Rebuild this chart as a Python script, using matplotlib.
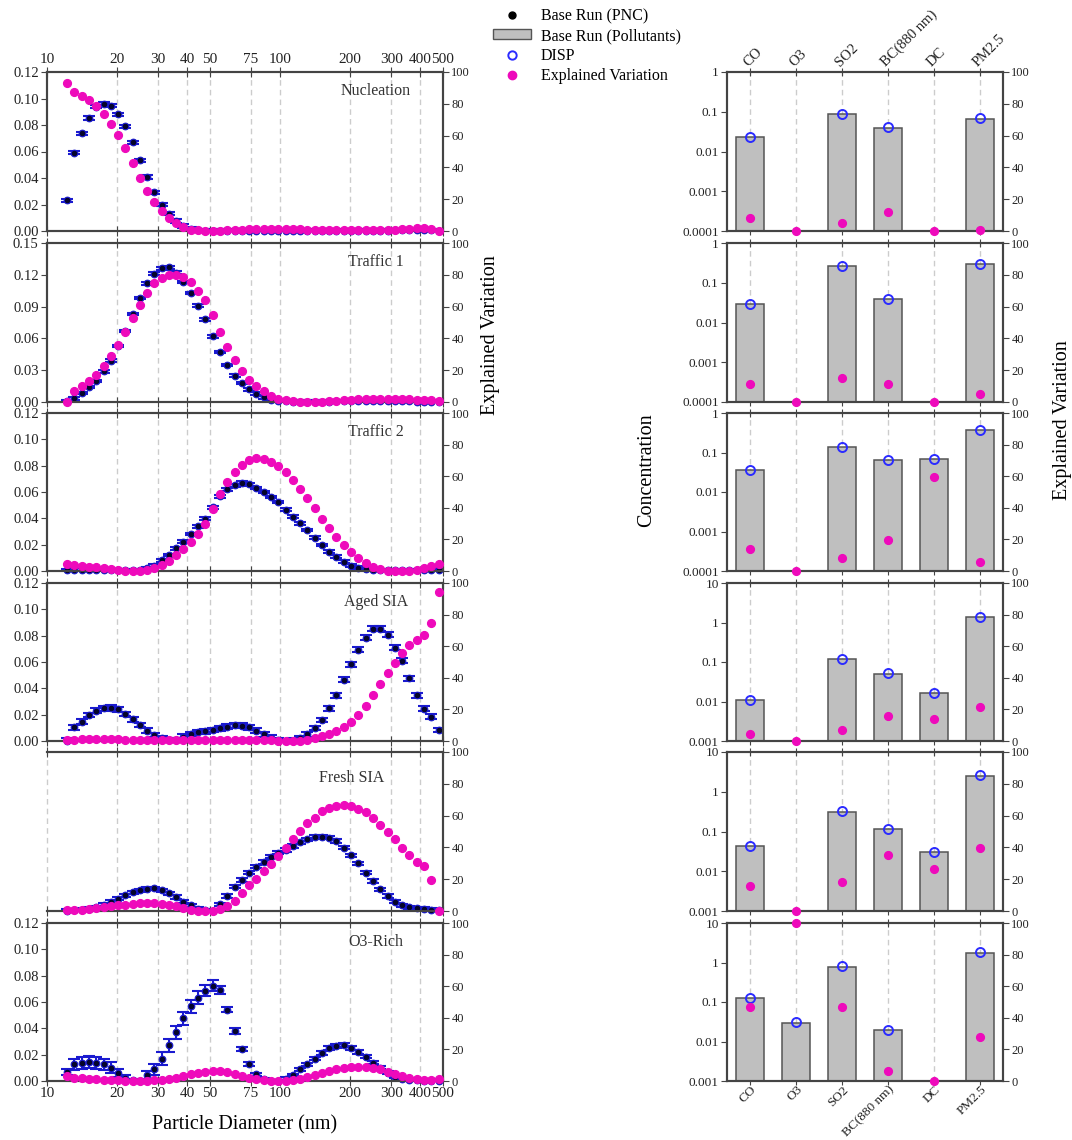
import numpy as np
import matplotlib
matplotlib.use('Agg')
import matplotlib.pyplot as plt
from matplotlib.lines import Line2D
from matplotlib.patches import Patch
from matplotlib.ticker import FixedLocator, FuncFormatter, NullLocator, LogLocator

plt.rcParams['font.family'] = ['Liberation Serif', 'DejaVu Serif']
plt.rcParams['axes.linewidth'] = 1.5
plt.rcParams['axes.edgecolor'] = '#444444'
plt.rcParams['xtick.color'] = '#444444'
plt.rcParams['ytick.color'] = '#444444'
plt.rcParams['xtick.labelcolor'] = '#222222'
plt.rcParams['ytick.labelcolor'] = '#222222'

# particle size bins (nm)
diameter = [12.2, 13.1, 14.1, 15.1, 16.3, 17.5, 18.8, 20.2, 21.7, 23.3,
            25.0, 26.9, 28.9, 31.1, 33.4, 35.9, 38.5, 41.4, 44.5, 47.8,
            51.4, 55.2, 59.4, 63.8, 68.5, 73.7, 79.1, 85.1, 91.4, 98.2,
            105.5, 113.4, 121.9, 131.0, 140.7, 151.2, 162.5, 174.6, 187.6, 201.7,
            216.7, 232.9, 250.3, 269.0, 289.0, 310.6, 333.8, 358.7, 385.4, 414.2,
            445.1, 478.3]

factors = ['Nucleation', 'Traffic 1', 'Traffic 2', 'Aged SIA', 'Fresh SIA', 'O3-Rich']

# base run profiles (PNC)
nuc_pnc = [0.0233, 0.059, 0.0737, 0.0853, 0.0937, 0.096, 0.0947, 0.088, 0.079, 0.0668,
           0.0534, 0.0408, 0.0291, 0.020, 0.0129, 0.0076, 0.0038, 0.0015, 0.0006, 0.0003,
           0.0002, 0.0002, 0.0002, 0.0003, 0.0003, 0.0003, 0.0003, 0.0003, 0.0003, 0.0003,
           0.0003, 0.0003, 0.0003, 0.0003, 0.0003, 0.0003, 0.0003, 0.0003, 0.0003, 0.0003,
           0.0003, 0.0003, 0.0003, 0.0003, 0.0003, 0.0004, 0.0004, 0.0005, 0.0005, 0.0005,
           0.0004, 0.0003]
tr1_pnc = [0.0005, 0.0035, 0.0083, 0.014, 0.020, 0.029, 0.039, 0.053, 0.067, 0.083,
           0.098, 0.112, 0.121, 0.126, 0.127, 0.122, 0.113, 0.103, 0.091, 0.078,
           0.062, 0.047, 0.035, 0.025, 0.018, 0.012, 0.008, 0.0045, 0.002, 0.001,
           0.0005, 0.0003, 0.0003, 0.0003, 0.0003, 0.0003, 0.0004, 0.0005, 0.0006, 0.0007,
           0.0008, 0.0008, 0.0008, 0.0008, 0.0007, 0.0006, 0.0005, 0.0005, 0.0004, 0.0004,
           0.0003, 0.0003]
tr2_pnc = [0.0008, 0.001, 0.001, 0.0009, 0.0008, 0.0007, 0.0006, 0.0005, 0.0004, 0.0004,
           0.0008, 0.002, 0.004, 0.0081, 0.0121, 0.0172, 0.0222, 0.028, 0.034, 0.0397,
           0.0483, 0.0568, 0.062, 0.065, 0.067, 0.0657, 0.063, 0.060, 0.0563, 0.0523,
           0.0467, 0.0412, 0.0361, 0.0311, 0.0253, 0.0197, 0.0147, 0.0109, 0.0071, 0.004,
           0.0025, 0.0013, 0.0008, 0.0005, 0.0004, 0.0004, 0.0004, 0.0005, 0.0006, 0.0007,
           0.0008, 0.0009]
aged_pnc = [0.0003, 0.0104, 0.0146, 0.0197, 0.023, 0.0247, 0.0253, 0.0242, 0.0205, 0.0164,
            0.0121, 0.0078, 0.0045, 0.0023, 0.0008, 0.0008, 0.0033, 0.0053, 0.0068, 0.0073,
            0.0083, 0.0096, 0.0109, 0.0119, 0.0116, 0.0104, 0.0078, 0.005, 0.0025, 0.0008,
            0.0, 0.0003, 0.002, 0.005, 0.0098, 0.0159, 0.0247, 0.0348, 0.0467, 0.0583,
            0.0694, 0.0785, 0.0854, 0.0854, 0.0808, 0.071, 0.0609, 0.0475, 0.0346, 0.0245,
            0.0184, 0.0083]
fresh_pnc = [0.0003, 0.0005, 0.0008, 0.0015, 0.0028, 0.0045, 0.0068, 0.0093, 0.0118, 0.0141,
             0.0156, 0.0169, 0.0171, 0.0156, 0.0133, 0.0106, 0.007, 0.0043, 0.0018, 0.0005,
             0.0003, 0.005, 0.0113, 0.0184, 0.0234, 0.0289, 0.0335, 0.037, 0.041, 0.044,
             0.046, 0.049, 0.0518, 0.0541, 0.0558, 0.0561, 0.0553, 0.0528, 0.0478, 0.042,
             0.036, 0.0289, 0.0226, 0.0164, 0.0113, 0.007, 0.0043, 0.0028, 0.002, 0.0015,
             0.001, 0.0005]
o3_pnc = [0.0068, 0.0126, 0.0139, 0.0144, 0.0139, 0.0126, 0.0101, 0.0063, 0.0025, 0.0005,
          0.0, 0.0043, 0.0088, 0.0169, 0.027, 0.0371, 0.0475, 0.0568, 0.0632, 0.0687,
          0.0725, 0.069, 0.0543, 0.0379, 0.0245, 0.0126, 0.0051, 0.0013, 0.0, 0.0,
          0.0018, 0.0045, 0.0088, 0.0126, 0.0169, 0.0215, 0.0248, 0.0265, 0.0273, 0.0253,
          0.022, 0.0184, 0.0139, 0.0101, 0.0063, 0.0033, 0.0018, 0.001, 0.0005, 0.0003,
          0.0003, 0.0003]

# DISP error ranges
nuc_err = 0.0012
tr1_err = 0.0012
tr2_err = 0.001
aged_err = 0.0018
fresh_err = 0.0012
o3_err = [0.002, 0.004, 0.0045, 0.0045, 0.0045, 0.004, 0.004, 0.003, 0.002, 0.001,
          0.001, 0.003, 0.004, 0.005, 0.005, 0.005, 0.005, 0.005, 0.005, 0.004,
          0.004, 0.003, 0.002, 0.002, 0.0015, 0.0015, 0.001, 0.001, 0.001, 0.001,
          0.001, 0.001, 0.001, 0.0012, 0.0012, 0.0015, 0.0015, 0.0015, 0.0015, 0.0015,
          0.0015, 0.0012, 0.0012, 0.001, 0.001, 0.001, 0.001, 0.001, 0.001, 0.001,
          0.001, 0.001]

# explained variation (%)
nuc_ev = [93.2, 87.3, 84.8, 82.1, 78.5, 73.4, 67.3, 60.1, 51.9, 42.6,
          33.5, 25.3, 18.1, 12.4, 8.2, 4.9, 2.3, 0.8, 0.4, 0.0,
          0.0, 0.0, 0.4, 0.6, 0.8, 1.0, 1.3, 1.3, 1.3, 1.3,
          1.3, 1.0, 1.0, 0.8, 0.6, 0.4, 0.4, 0.4, 0.4, 0.4,
          0.4, 0.4, 0.4, 0.6, 0.6, 0.8, 1.0, 1.5, 1.9, 2.1,
          1.3, 0.2]
tr1_ev = [0.0, 6.8, 10.2, 12.9, 17.1, 22.5, 28.8, 36.0, 44.0, 53.0,
          61.3, 68.7, 74.7, 78.0, 80.0, 80.0, 78.7, 75.3, 70.0, 64.0,
          54.7, 44.0, 34.7, 26.7, 19.3, 14.0, 10.0, 6.7, 4.0, 2.0,
          1.0, 0.4, 0.3, 0.3, 0.3, 0.3, 0.5, 0.8, 1.2, 1.5,
          1.8, 2.0, 2.1, 2.1, 2.0, 1.9, 1.8, 1.6, 1.4, 1.2,
          1.0, 0.6]
tr2_ev = [4.4, 3.8, 3.4, 2.7, 2.5, 1.9, 1.3, 0.6, 0.2, 0.0,
          0.0, 0.4, 1.9, 4.0, 6.3, 10.3, 13.7, 18.3, 23.6, 29.7,
          39.2, 48.6, 56.6, 62.7, 67.4, 70.5, 71.6, 71.2, 69.3, 66.5,
          62.7, 57.9, 52.2, 46.5, 39.6, 33.0, 26.9, 21.3, 16.2, 11.8,
          8.0, 4.8, 2.7, 1.0, 0.2, 0.0, 0.0, 0.2, 0.6, 1.7,
          3.2, 4.4]
aged_ev = [0.6, 0.8, 1.0, 1.1, 1.2, 1.2, 1.1, 1.0, 0.9, 0.8,
           0.7, 0.6, 0.5, 0.5, 0.4, 0.4, 0.4, 0.4, 0.4, 0.4,
           0.4, 0.4, 0.4, 0.4, 0.4, 0.4, 0.4, 0.4, 0.4, 0.2,
           0.1, 0.1, 0.3, 0.8, 1.7, 3.2, 4.4, 6.3, 8.6, 12.0,
           16.4, 22.0, 28.8, 35.8, 43.2, 49.5, 55.8, 60.6, 64.2, 67.0,
           75.0, 94.3]
fresh_ev = [0.4, 0.4, 0.4, 1.0, 1.9, 2.5, 3.1, 3.6, 4.0, 4.4,
            4.8, 4.8, 4.8, 4.6, 4.0, 3.1, 1.9, 0.8, 0.2, 0.2,
            0.2, 1.0, 3.1, 6.3, 11.5, 16.1, 20.3, 24.9, 29.4, 34.6,
            39.6, 45.1, 50.3, 55.1, 58.7, 62.7, 65.0, 66.0, 66.5, 66.0,
            64.4, 62.3, 58.7, 54.1, 49.7, 45.1, 39.4, 35.0, 30.8, 28.3,
            19.5, 0.0]
o3_ev = [3.2, 2.1, 1.7, 1.5, 1.1, 0.8, 0.6, 0.4, 0.2, 0.0,
         0.0, 0.2, 0.4, 0.8, 1.5, 2.1, 3.2, 4.2, 4.8, 5.7,
         6.3, 6.3, 5.7, 4.6, 3.2, 2.1, 1.1, 0.4, 0.0, 0.0,
         0.2, 0.6, 1.5, 2.7, 4.0, 5.3, 6.3, 7.4, 8.4, 9.1,
         9.1, 8.8, 8.2, 7.4, 5.9, 4.2, 3.2, 2.1, 1.1, 0.6,
         0.4, 1.1]

# pollutant panels: base run, DISP, explained variation
pollutants = ['CO', 'O3', 'SO2', 'BC(880 nm)', 'DC', 'PM2.5']
nuc_conc = [0.0226, None, 0.0865, 0.039, None, 0.066]
nuc_disp = [0.023, None, 0.09, 0.041, None, 0.068]
nuc_pev = [8.2, 0, 4.9, 11.8, 0, 0.9]
tr1_conc = [0.0297, None, 0.257, 0.038, None, 0.29]
tr1_disp = [0.030, None, 0.26, 0.039, None, 0.30]
tr1_pev = [11.2, 0, 15.0, 11.6, 0, 4.9]
tr2_conc = [0.0365, None, 0.137, 0.064, 0.069, 0.37]
tr2_disp = [0.037, None, 0.14, 0.065, 0.07, 0.38]
tr2_pev = [13.8, 0, 8.0, 19.5, 59.2, 5.7]
aged_conc = [0.0109, None, 0.116, 0.051, 0.016, 1.34]
aged_disp = [0.011, None, 0.118, 0.053, 0.0165, 1.37]
aged_pev = [4.2, 0, 6.7, 16.0, 14.1, 21.5]
fresh_conc = [0.042, None, 0.31, 0.118, 0.0305, 2.49]
fresh_disp = [0.043, None, 0.32, 0.115, 0.031, 2.6]
fresh_pev = [15.7, 0, 18.2, 35.0, 26.7, 39.4]
o3_conc = [0.123, 0.0298, 0.774, 0.0195, None, 1.69]
o3_disp = [0.125, 0.031, 0.8, 0.02, None, 1.8]
o3_pev = [47.0, 100.0, 47.0, 6.1, 0, 27.6]

size_data = [(nuc_pnc, nuc_err, nuc_ev), (tr1_pnc, tr1_err, tr1_ev),
             (tr2_pnc, tr2_err, tr2_ev), (aged_pnc, aged_err, aged_ev),
             (fresh_pnc, fresh_err, fresh_ev), (o3_pnc, o3_err, o3_ev)]
pol_data = [(nuc_conc, nuc_disp, nuc_pev), (tr1_conc, tr1_disp, tr1_pev),
            (tr2_conc, tr2_disp, tr2_pev), (aged_conc, aged_disp, aged_pev),
            (fresh_conc, fresh_disp, fresh_pev), (o3_conc, o3_disp, o3_pev)]

PINK = '#ee0abb'
NAVY = '#1a1ad0'
GRID = '#cccccc'
BAR = '#bfbfbf'

W, H = 1072, 1140
fig = plt.figure(figsize=(W / 100, H / 100), dpi=100)

tops = [72, 243, 413, 583, 752, 923]
bots = [231, 402, 571, 741, 911, 1081]
ymax = [0.12, 0.15, 0.12, 0.12, 0.12, 0.12]
ystep = [0.02, 0.03, 0.02, 0.02, 0.02, 0.02]
name_x = [0.83, 0.83, 0.83, 0.83, 0.77, 0.83]
name_y = [0.88, 0.88, 0.88, 0.88, 0.835, 0.88]
size_ticks = [10, 20, 30, 40, 50, 75, 100, 200, 300, 400, 500]
rlims = [(1e-4, 1), (1e-4, 1), (1e-4, 1), (1e-3, 10), (1e-3, 10), (1e-3, 10)]

for i in range(6):
    pnc, err, ev = size_data[i]
    h = (bots[i] - tops[i]) / H
    ax = fig.add_axes([47 / W, 1 - bots[i] / H, 396 / W, h])
    ax2 = ax.twinx()
    ax.set_xscale('log')
    ax.set_xlim(10, 500)
    ax.set_ylim(0, ymax[i])
    for d in size_ticks[1:-1]:
        ax.axvline(d, color=GRID, ls=(0, (4, 3)), lw=1, zorder=0)
    ax.errorbar(diameter, pnc, yerr=err, fmt='none', ecolor=NAVY,
                elinewidth=1.5, capsize=4.2, capthick=1.5, zorder=3)
    ax.plot(diameter, pnc, 'o', ms=4.8, color='#05052a', mec=NAVY, mew=0.8,
            zorder=4, clip_on=False)
    ax2.plot(diameter, ev, 'o', ms=5.6, color=PINK, mec=PINK, zorder=4, clip_on=False)
    ax2.set_ylim(0, 100)
    ax2.set_yticks(range(0, 101, 20))
    ax2.tick_params(axis='y', direction='out', length=4, labelsize=9, pad=2)

    ax.xaxis.set_major_locator(FixedLocator(size_ticks))
    ax.xaxis.set_minor_locator(NullLocator())
    ax.xaxis.set_major_formatter(FuncFormatter(lambda v, p: '%d' % v))
    ax.tick_params(axis='x', direction='inout', length=7, top=True, bottom=True,
                   labeltop=(i == 0), labelbottom=(i == 5), labelsize=11, pad=1)
    ax.set_yticks(np.arange(0, ymax[i] + 1e-9, ystep[i]))
    ax.yaxis.set_major_formatter(FuncFormatter(lambda v, p: '%.2f' % v))
    ax.tick_params(axis='y', direction='out', length=4, labelsize=10.5, pad=2)
    if i == 4:
        ax.spines['left'].set_visible(False)
        ax2.spines['left'].set_visible(False)
        ax.tick_params(axis='y', left=False, labelleft=False)
        ax.axvline(10, color=GRID, ls=(0, (4, 3)), lw=1, zorder=0, clip_on=False)
    ax.text(name_x[i], name_y[i], factors[i], transform=ax.transAxes,
            ha='center', va='center', fontsize=11.5, color='#333333')

for i in range(6):
    conc, disp, pev = pol_data[i]
    lo, hi = rlims[i]
    h = (bots[i] - tops[i]) / H
    rax = fig.add_axes([727 / W, 1 - bots[i] / H, 276 / W, h])
    rax.set_yscale('log')
    rax.set_ylim(lo, hi)
    rax.set_xlim(-0.5, 5.5)
    for k in range(len(pollutants)):
        rax.axvline(k, color=GRID, ls=(0, (4, 3)), lw=1, zorder=0)
    xs = [k for k in range(len(pollutants)) if conc[k] is not None]
    rax.bar(xs, [conc[k] - lo for k in xs], bottom=lo, width=0.6, color=BAR,
            edgecolor='#555555', lw=1.1, zorder=2)
    rax.plot(xs, [disp[k] for k in xs], 'o', mfc='none', mec='#2b2bff', mew=1.4,
             ms=6.5, zorder=4, clip_on=False)
    rax2 = rax.twinx()
    rax2.set_ylim(0, 100)
    rax2.plot(range(len(pollutants)), pev, 'o', color=PINK, ms=5.6, zorder=4, clip_on=False)
    rax2.set_yticks(range(0, 101, 20))
    rax2.tick_params(axis='y', direction='out', length=4, labelsize=9, pad=2)

    rax.yaxis.set_major_locator(LogLocator(base=10, numticks=10))
    rax.yaxis.set_minor_locator(NullLocator())
    rax.yaxis.set_major_formatter(FuncFormatter(lambda v, p: '%g' % v))
    rax.tick_params(axis='y', direction='out', length=4, labelsize=9.5, pad=2)
    rax.set_xticks(range(len(pollutants)), pollutants)
    rax.tick_params(axis='x', direction='inout', length=6, top=True, bottom=True,
                    labeltop=(i == 0), labelbottom=(i == 5), labelsize=9.5, pad=-1)
    for t in rax.xaxis.get_major_ticks():
        t.label1.set(rotation=45, ha='right', va='top', rotation_mode='anchor')
        t.label2.set(rotation=45, ha='left', va='bottom', rotation_mode='anchor',
                     fontsize=10.5)

fig.text(490 / W, 1 - 335 / H, 'Explained Variation', rotation=90,
         ha='center', va='center', fontsize=14.5)
fig.text(1062 / W, 1 - 420 / H, 'Explained Variation', rotation=90,
         ha='center', va='center', fontsize=14.5)
fig.text(647 / W, 1 - 470 / H, 'Concentration', rotation=90,
         ha='center', va='center', fontsize=14.5)
fig.text(245 / W, 1 - 1125 / H, 'Particle Diameter (nm)',
         ha='center', va='center', fontsize=14.5)

handles = [Line2D([], [], marker='o', ls='none', color='black', ms=5),
           Patch(facecolor=BAR, edgecolor='#555555'),
           Line2D([], [], marker='o', ls='none', mfc='none', mec='#2b2bff', mew=1.4, ms=6),
           Line2D([], [], marker='o', ls='none', color=PINK, ms=6)]
labels = ['Base Run (PNC)', 'Base Run (Pollutants)', 'DISP', 'Explained Variation']
fig.legend(handles, labels, loc='upper left', bbox_to_anchor=(493 / W, 1 - 8 / H),
           frameon=False, fontsize=11.5, handlelength=2.4, handleheight=0.6,
           handletextpad=0.6, labelspacing=0.25, borderpad=0, borderaxespad=0)

fig.savefig('out.png', dpi=100)
